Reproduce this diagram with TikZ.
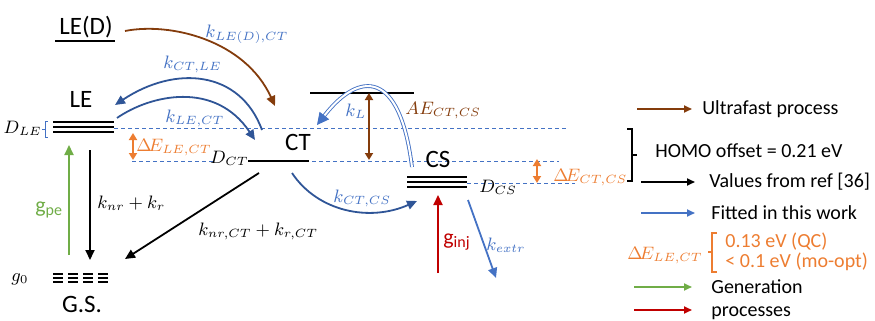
\documentclass[tikz,border=0pt]{standalone}
\usepackage{amsmath,amssymb}
\usepackage{fontspec}
\setmainfont{Carlito}
\usepackage{xcolor}
\usetikzlibrary{arrows.meta, positioning, calc}

\definecolor{ufbrown}{RGB}{132,60,12}
\definecolor{fitblue}{RGB}{68,114,196}
\definecolor{rateblue}{RGB}{47,85,151}
\definecolor{gaporange}{RGB}{237,125,49}
\definecolor{gengreen}{RGB}{112,173,71}
\definecolor{injred}{RGB}{192,0,0}

\begin{document}
\begin{tikzpicture}[
    x=0.5pt, y=-0.5pt,
    node distance=2pt and 6pt,
    state/.style={font=\fontsize{12.5}{14}\selectfont, inner sep=0pt, anchor=base},
    rate/.style={font=\fontsize{9}{11}\selectfont, inner sep=0pt, anchor=west},
    gen/.style={font=\fontsize{10.95}{13}\selectfont, inner sep=0pt, anchor=west},
    legtext/.style={anchor=west, inner sep=0pt},
    lvl/.style={line width=1pt},
    guide/.style={draw=fitblue, line width=0.45pt, dash pattern=on 2pt off 1.5pt},
    line/.style={-{Triangle[length=5pt,width=4.5pt]}, line width=0.9pt},
    legline/.style={-{Triangle[length=4pt,width=3.5pt]}, line width=0.9pt},
    both/.style={{Triangle[length=3.5pt,width=4pt]}-{Triangle[length=3.5pt,width=4pt]}, line width=0.9pt},
    kldbl/.style={draw=fitblue, double=white, double distance=1pt, line width=0.45pt, -{Triangle[length=6pt,width=6pt,fill=fitblue]}}
]
\useasboundingbox (0,0) rectangle (875,321);

% Levels
\coordinate (ld-l) at (55,41);   \coordinate (ld-r) at (115,41);
\coordinate (le-l) at (53,122);  \coordinate (le-r) at (114,122);
\coordinate (ct-l) at (248,161); \coordinate (ct-r) at (309,161);
\coordinate (ts-l) at (310,93);  \coordinate (ts-r) at (414,93);
\coordinate (cs-l) at (407,177); \coordinate (cs-r) at (467,177);
\draw[lvl] (ld-l) -- (ld-r);
\draw[lvl] (ct-l) -- (ct-r);
\draw[lvl] (ts-l) -- (ts-r);
\foreach \dy in {0,5,10} {
  \draw[lvl] ($(le-l)+(0,\dy)$) -- ($(le-r)+(0,\dy)$);
  \draw[lvl] ($(cs-l)+(0,\dy)$) -- ($(cs-r)+(0,\dy)$);
}
\foreach \gx in {53,68,83,98}
  \foreach \gy in {274,278,282}
    \draw[line width=0.7pt] (\gx,\gy) -- ++(10,0);

% Guide lines
\draw[guide] (114,128) -- (567,128);
\draw[guide] (132,161) -- (215,161);
\draw[guide] (312,161) -- (559,161);
\draw[guide] (467,183) -- (575,183);
\draw[fitblue, line width=0.5pt] (48,121) -- (45,121) -- (45,137) -- (48,137) (45,129) -- (42,129);

% Nodes
\node[state] (ld) at (86,34) {LE(D)};
\node[state] (le) at (81,107) {LE};
\node[state] (ct) at (298,150) {CT};
\node[state] (cs) at (438,168) {CS};
\node[state] (gs) at (82,312) {G.S.};
\node[rate, anchor=east] (dle) at (42,128) {$D_{LE}$};
\node[rate, anchor=east] (dct) at (249,158) {$D_{CT}$};
\node[rate] (dcs) at (479,187) {$D_{CS}$};
\node[rate] (g0) at (11,279) {$g_0$};
\node[rate, text=fitblue] (kldct) at (205,34) {$k_{LE(D),CT}$};
\node[rate, text=fitblue] (kctle) at (163,64) {$k_{CT,LE}$};
\node[rate, text=fitblue] (klect) at (165,118) {$k_{LE,CT}$};
\node[rate, text=gaporange] (dlect) at (136,148) {$\Delta\!E_{LE,CT}$};
\node[rate] (knr) at (97,203) {$k_{nr}+k_r$};
\node[rate] (knrct) at (198,231) {$k_{nr,CT}+k_{r,CT}$};
\node[gen, text=gengreen] (gpe) at (35,210) {g\textsubscript{pe}};
\node[rate, text=fitblue] (kl) at (345,111) {$k_L$};
\node[rate, text=ufbrown] (ae) at (405,111) {$AE_{CT,CS}$};
\node[rate, text=fitblue] (kctcs) at (333,198) {$k_{CT,CS}$};
\node[rate, text=gaporange] (dctcs) at (553,178) {$\Delta\!E_{CT,CS}$};
\node[gen, text=injred] (ginj) at (443,242) {g\textsubscript{inj}};
\node[rate, text=fitblue] (kextr) at (486,245) {$k_{extr}$};

% Connections
\coordinate (ld-out) at (125,31);  \coordinate (ct-in) at (275,106);
\coordinate (ct-up) at (262,130);  \coordinate (le-in) at (115,105);
\coordinate (le-out) at (117,118); \coordinate (ct-lin) at (255,140);
\coordinate (ct-out) at (292,173); \coordinate (cs-in) at (417,201);
\coordinate (cs-up) at (412,167);  \coordinate (ct-kin) at (317,125);
\coordinate (ts-dn) at (369,93);   \coordinate (ct-ae) at (369,160);
\coordinate (le-dn) at (90,150);   \coordinate (gs-in) at (90,260);
\coordinate (ct-dn) at (259,173);  \coordinate (gs-ct) at (125,259);
\coordinate (gs-up) at (69,255);   \coordinate (le-gen) at (69,145);
\coordinate (inj-src) at (438,273);\coordinate (cs-inj) at (438,195);
\coordinate (cs-dn) at (468,200);  \coordinate (extr) at (496,278);
\draw[line, ufbrown] (ld-out) .. controls (170,22) and (245,40) .. (ct-in);
\draw[line, rateblue] (ct-up) .. controls (240,70) and (175,65) .. (le-in);
\draw[line, rateblue] (le-out) .. controls (150,95) and (215,80) .. (ct-lin);
\draw[line, rateblue] (ct-out) .. controls (318,212) and (370,222) .. (cs-in);
\draw[kldbl] (cs-up) .. controls (400,70) and (360,70) .. (ct-kin);
\draw[both, ufbrown] (ts-dn) -- (ct-ae);
\draw[both, gaporange] (133,133) -- (133,160);
\draw[both, gaporange] (537,159) -- (537,183);
\draw[line] (le-dn) -- (gs-in);
\draw[line] (ct-dn) -- (gs-ct);
\draw[line, gengreen] (gs-up) -- (le-gen);
\draw[line, injred] (inj-src) -- (cs-inj);
\draw[line, fitblue] (cs-dn) -- (extr);

% Legend
\coordinate (lg1) at (637,109); \coordinate (lg1e) at (692,109);
\coordinate (lg2) at (641,182); \coordinate (lg2e) at (695,182);
\coordinate (lg3) at (641,213); \coordinate (lg3e) at (695,213);
\coordinate (lg4) at (634,287); \coordinate (lg4e) at (692,287);
\coordinate (lg5) at (634,310); \coordinate (lg5e) at (692,310);
\draw[legline, ufbrown] (lg1) -- (lg1e);
\draw[legline] (lg2) -- (lg2e);
\draw[legline, fitblue] (lg3) -- (lg3e);
\draw[legline, gengreen] (lg4) -- (lg4e);
\draw[legline, injred] (lg5) -- (lg5e);
\node[legtext, right=5pt of lg1e] (t1) {Ultrafast process};
\node[legtext, right=7pt of lg2e] (t2) {Values from ref [36]};
\node[legtext, right=8pt of lg3e] (t3) {Fitted in this work};
\node[legtext, right=9.5pt of lg4e] (t4) {Generation};
\node[legtext, right=9.5pt of lg5e, yshift=-1.5pt] (t5) {processes};
\draw[line width=0.9pt] (627,129) -- (632,129) -- (632,181) -- (627,181) (632,155) -- (637,155);
\node[legtext] (homo) at (655,151) {HOMO offset = 0.21 eV};
\node[rate, text=gaporange] (lgde) at (627,256) {$\Delta\!E_{LE,CT}$};
\draw[gaporange, line width=0.9pt] (717,233) -- (712,233) -- (712,272) -- (717,272) (712,252) -- (708,252);
\node[legtext, text=gaporange] (qc) at (725,242) {0.13 eV (QC)};
\node[legtext, text=gaporange] (mo) at (725,262) {< 0.1 eV (mo-opt)};

\end{tikzpicture}
\end{document}
